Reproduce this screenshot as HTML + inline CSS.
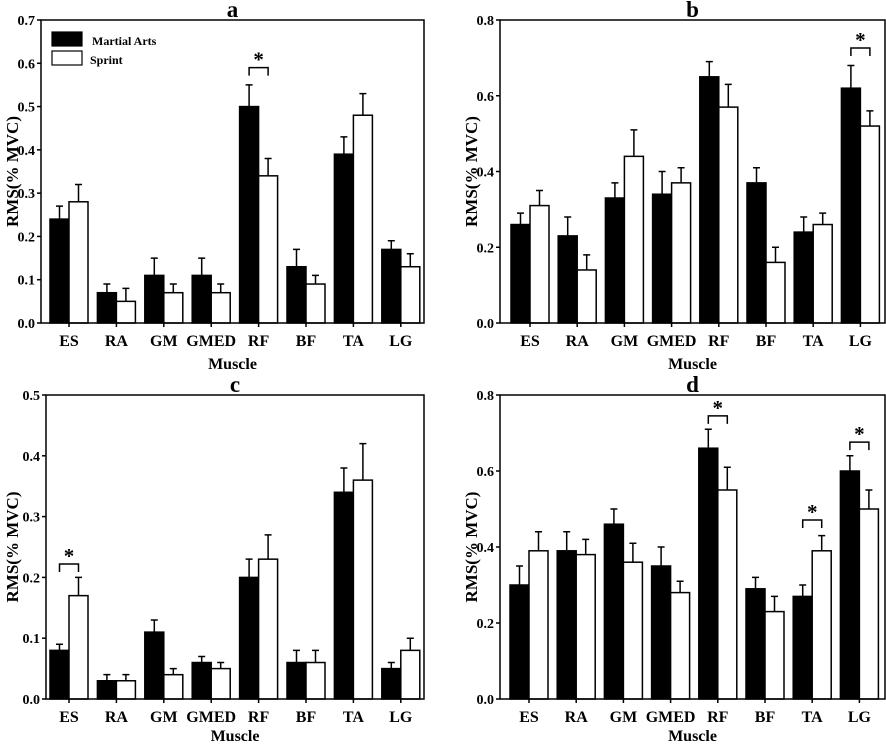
<!DOCTYPE html>
<html><head><meta charset="utf-8"><style>
body{margin:0;background:#fff}
svg text{font-family:"Liberation Serif",serif;font-weight:bold;fill:#000}
</style></head><body>
<svg id="fig" width="886" height="744" xmlns="http://www.w3.org/2000/svg"></svg>
<script>
const categories=["ES","RA","GM","GMED","RF","BF","TA","LG"];
const aMartial=[.24,.07,.11,.11,.50,.13,.39,.17];
const aMartialErr=[.03,.02,.04,.04,.05,.04,.04,.02];
const aSprint=[.28,.05,.07,.07,.34,.09,.48,.13];
const aSprintErr=[.04,.03,.02,.02,.04,.02,.05,.03];
const aSig=[[4,.59]];
const bMartial=[.26,.23,.33,.34,.65,.37,.24,.62];
const bMartialErr=[.03,.05,.04,.06,.04,.04,.04,.06];
const bSprint=[.31,.14,.44,.37,.57,.16,.26,.52];
const bSprintErr=[.04,.04,.07,.04,.06,.04,.03,.04];
const bSig=[[7,.726]];
const cMartial=[.08,.03,.11,.06,.20,.06,.34,.05];
const cMartialErr=[.01,.01,.02,.01,.03,.02,.04,.01];
const cSprint=[.17,.03,.04,.05,.23,.06,.36,.08];
const cSprintErr=[.03,.01,.01,.01,.04,.02,.06,.02];
const cSig=[[0,.222]];
const dMartial=[.30,.39,.46,.35,.66,.29,.27,.60];
const dMartialErr=[.05,.05,.04,.05,.05,.03,.03,.04];
const dSprint=[.39,.38,.36,.28,.55,.23,.39,.50];
const dSprintErr=[.05,.04,.05,.03,.06,.04,.04,.05];
const dSig=[[4,.745],[6,.471],[7,.676]];
const aTicks=[0,.1,.2,.3,.4,.5,.6,.7];
const bTicks=[0,.2,.4,.6,.8];
const cTicks=[0,.1,.2,.3,.4,.5];
const dTicks=[0,.2,.4,.6,.8];

const NS="http://www.w3.org/2000/svg";
const svg=document.getElementById('fig');
function mk(tag,attrs,parent,txt){const e=document.createElementNS(NS,tag);for(const k in attrs)e.setAttribute(k,attrs[k]);if(txt!==undefined)e.textContent=txt;(parent||svg).appendChild(e);return e;}

function panel(P){
  const g=mk('g',{});
  
  
  const ymax=P.ticks[P.ticks.length-1];
  const y=v=>P.bottom-(v/ymax)*(P.bottom-P.top);
  const xc=i=>P.first+P.step*i;
  const bw=19;
  categories.forEach((c,i)=>{
    const specs=[[P.m,P.me,'#000',xc(i)-bw,'martial'],[P.s,P.se,'#fff',xc(i),'sprint']];
    specs.forEach(([vals,errs,fill,x0,nm])=>{
      const v=vals[i],top=y(v);
      const r=mk('rect',{x:x0,y:top,width:bw,height:P.bottom-top,fill:fill,stroke:'#000','stroke-width':1.5},g);
      
      
      const ex=x0+bw/2,et=y(v+errs[i]);
      const e=mk('path',{d:`M${ex},${top}V${et}M${ex-3.5},${et}H${ex+3.5}`,stroke:'#000','stroke-width':1.5,fill:'none'},g);
      
      
    });
  });
  P.sig.forEach(([i,v])=>{
    const yy=y(v),x1=xc(i)-bw/2,x2=xc(i)+bw/2;
    const b=mk('path',{d:`M${x1},${yy+8}V${yy}H${x2}V${yy+8}`,stroke:'#000','stroke-width':1.5,fill:'none'},g);
    
    
    const s=mk('text',{x:xc(i),y:yy-1,'text-anchor':'middle','font-size':21},g,'*');
    
    
  });
  const f=mk('rect',{x:P.left,y:P.top,width:P.right-P.left,height:P.bottom-P.top,fill:'none',stroke:'#000','stroke-width':1.5},g);
  
  
  P.ticks.forEach(t=>{
    const yy=y(t);
    mk('line',{x1:P.left-4,x2:P.left,y1:yy,y2:yy,stroke:'#000','stroke-width':1.5},g);
    const lb=mk('text',{x:P.left-6,y:yy+5,'text-anchor':'end','font-size':14},g,t.toFixed(1));
    
    
  });
  categories.forEach((c,i)=>{
    mk('line',{x1:xc(i),x2:xc(i),y1:P.bottom,y2:P.bottom+4,stroke:'#000','stroke-width':1.5},g);
    const lb=mk('text',{x:xc(i),y:P.bottom+23,'text-anchor':'middle','font-size':16},g,c);
    
    
  });
  const t=mk('text',{x:(P.left+P.right)/2,y:P.top-3,'text-anchor':'middle','font-size':23},g,P.id);
  
  
  const xt=mk('text',{x:(P.left+P.right)/2,y:P.xty,'text-anchor':'middle','font-size':16},g,'Muscle');
  
  
  const cy=(P.top+P.bottom)/2;
  const yt=mk('text',{x:P.ytx,y:cy,'text-anchor':'middle','font-size':17,transform:`rotate(-90 ${P.ytx} ${cy})`},g,'RMS(% MVC)');
  
  
  return g;
}
panel({id:'a',left:41,right:424,top:20,bottom:323,first:69,step:47.4,ticks:aTicks,m:aMartial,me:aMartialErr,s:aSprint,se:aSprintErr,sig:aSig,xty:369,ytx:18});
panel({id:'b',left:500,right:885,top:20,bottom:323,first:530,step:47.2,ticks:bTicks,m:bMartial,me:bMartialErr,s:bSprint,se:bSprintErr,sig:bSig,xty:369,ytx:477});
panel({id:'c',left:46,right:424,top:395,bottom:699,first:69,step:47.4,ticks:cTicks,m:cMartial,me:cMartialErr,s:cSprint,se:cSprintErr,sig:cSig,xty:741,ytx:18});
panel({id:'d',left:500,right:885,top:395,bottom:699,first:529,step:47.2,ticks:dTicks,m:dMartial,me:dMartialErr,s:dSprint,se:dSprintErr,sig:dSig,xty:741,ytx:477});
const lg=mk('g',{});


mk('rect',{x:52,y:32,width:30,height:14,fill:'#000',stroke:'#000','stroke-width':1.2},lg);
const l1=mk('text',{x:92,y:45,'font-size':12},lg,'Martial Arts');


mk('rect',{x:52,y:51,width:30,height:14,fill:'#fff',stroke:'#000','stroke-width':1.2},lg);
const l2=mk('text',{x:90,y:64,'font-size':12},lg,'Sprint');


</script>
</body></html>
